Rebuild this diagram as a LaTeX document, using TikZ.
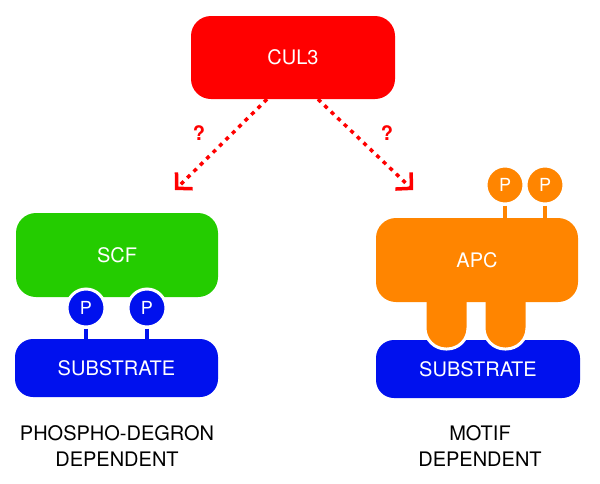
\documentclass[tikz,border=0pt]{standalone}
\usepackage{fontspec}
\setmainfont{TeX Gyre Heros}
\usetikzlibrary{arrows.meta,positioning,calc}
\definecolor{culred}{RGB}{255,0,0}
\definecolor{scfgreen}{RGB}{36,204,0}
\definecolor{subblue}{RGB}{0,17,238}
\definecolor{apcorange}{RGB}{255,133,0}
\tikzset{
	blob/.style={rounded corners=20pt, minimum width=202pt, minimum height=84pt,
		inner sep=0pt, text=white, font=\fontsize{20}{24}\selectfont},
	subbox/.style={blob, fill=subblue, rounded corners=18pt, minimum height=58pt},
	phos/.style={circle, minimum size=38pt, inner sep=0pt, draw=white,
		line width=3pt, text=white, font=\fontsize{18}{20}\selectfont},
	stem/.style={line width=3.5pt},
	qarrow/.style={-{Straight Barb[length=11pt,width=23pt]}, culred,
		line width=3.5pt, dash pattern=on 4pt off 5pt},
	caption/.style={align=center, font=\fontsize{20}{26}\selectfont}
}
\begin{document}
\begin{tikzpicture}[
				x=1pt, y=-1pt,
				qmark/.style={text=culred, font=\fontsize{20}{24}\selectfont\bfseries},
				leg/.style={fill=apcorange, draw=white, line width=3pt,
					rounded corners=21pt},
				]
				\useasboundingbox (0,0) rectangle (600,483);
				
				%% ── CUL3 (top) ───────────────────────────────────────────────────
				\node[blob, fill=culred, minimum width=204pt, minimum height=83pt]
				(cul3) at (293,57.5) {CUL3};
				
				\node[qmark] (qleft) at (199,133) {?};
				\node[qmark] (qright) at (387,133) {?};
				
				\coordinate (scftip) at (175,190);
				\coordinate (apctip) at (413,190);
				\draw[qarrow] ([xshift=-26pt]cul3.south) -- (scftip);
				\draw[qarrow] ([xshift=25pt]cul3.south) -- (apctip);
				
				%% ── SCF side (left) ──────────────────────────────────────────────
				\node[blob, fill=scfgreen] (scf) at (117,255) {SCF};
				\node[subbox, minimum width=203pt] (subl) at (116.5,368) {SUBSTRATE};
				
				\node[phos, fill=subblue] (pl1) at (86,308) {P};
				\node[phos, fill=subblue] (pl2) at (147,308) {P};
				
				\draw[stem, subblue] (pl1.south) -- (pl1.south |- subl.north);
				\draw[stem, subblue] (pl2.south) -- (pl2.south |- subl.north);
				
				%% ── APC side (right) ─────────────────────────────────────────────
				\node[subbox, minimum width=204pt] (subr) at (478,369) {SUBSTRATE};
				
				\filldraw[leg] (425,270) rectangle (468,349);
				\filldraw[leg] (484,270) rectangle (527,349);
				
				\node[blob, fill=apcorange] (apc) at (477,260) {APC};
				
				\node[phos, fill=apcorange] (pr1) at (505,185) {P};
				\node[phos, fill=apcorange] (pr2) at (545,185) {P};
				
				\draw[stem, apcorange] (pr1.south) -- (pr1.south |- apc.north);
				\draw[stem, apcorange] (pr2.south) -- (pr2.south |- apc.north);
				
				%% ── Captions ─────────────────────────────────────────────────────
				\node[caption] (capl) at (117,446) {PHOSPHO-DEGRON\\DEPENDENT};
				\node[caption] (capr) at (480,446) {MOTIF\\DEPENDENT};
				
			\end{tikzpicture}
\end{document}
